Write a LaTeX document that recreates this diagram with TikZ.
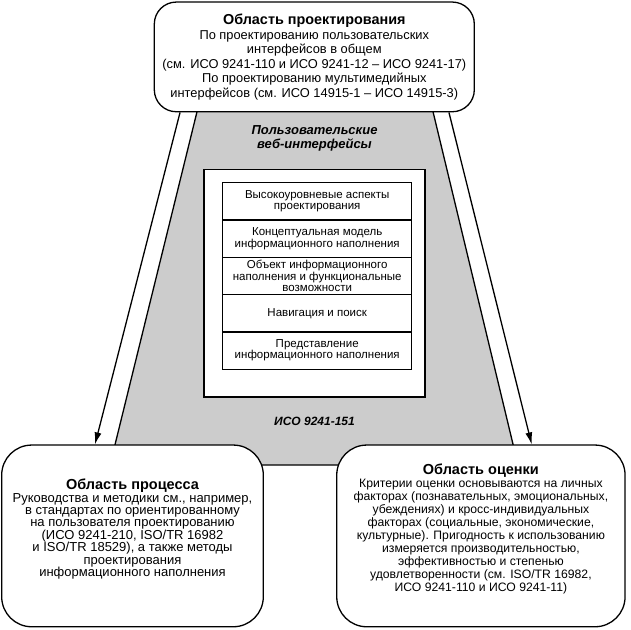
\documentclass[tikz,border=0pt]{standalone}
\usepackage{fontspec}
\setmainfont{Liberation Sans}
\usetikzlibrary{arrows.meta,positioning}
\newcommand{\areahead}[2][14.5]{{\fontsize{#1}{14.5}\selectfont\bfseries #2}}

\begin{document}
\begin{tikzpicture}[>={Latex[length=12pt,width=7pt]}, x=1pt, y=-1pt,
	area/.style={draw, line width=1.3pt, rounded corners=30pt, fill=white, align=center, inner sep=0pt},
	layer/.style={draw, line width=1.3pt, minimum width=189pt, minimum height=37.3pt, align=center, inner sep=0pt, font=\fontsize{11.5}{11.4}\selectfont}]
		\useasboundingbox (0,0) rectangle (631,629);
		%\draw [help lines] (0,0) grid (631,629);
		%trapezoid
		\filldraw [fill=black!20, line width=1.3pt] (199.9,100) -- (110,465) -- (518,465) -- (430.2,100);
		\node (webtitle) at (314.5,138.7) [font=\fontsize{13}{14}\selectfont\bfseries\itshape, align=center] {Пользовательские\\веб-интерфейсы};
		\node (isolabel) at (314.5,421.7) [font=\fontsize{12}{14}\selectfont\bfseries\itshape] {ИСО 9241-151};
		%inner box
		\node (webbox) at (314.5,283.3) [draw, fill=white, line width=1.3pt, minimum width=221pt, minimum height=227.5pt] {};
		\node (l1) at (317.2,201.3) [layer] {Высокоуровневые аспекты\\проектирования};
		\node (l2) [layer, below=-1.3pt of l1] {Концептуальная модель\\информационного наполнения};
		\node (l3) [layer, below=-1.3pt of l2] {Объект информационного\\наполнения и функциональные\\возможности};
		\node (l4) [layer, below=-1.3pt of l3] {Навигация и поиск};
		\node (l5) [layer, below=-1.3pt of l4] {Представление\\информационного наполнения};
		%areas
		\node (design) at (314.3,56.9) [area, rounded corners=22pt, minimum width=320pt, minimum height=109.7pt, font=\fontsize{12.85}{14.5}\selectfont]
			{\areahead[14.4]{Область проектирования}\\По проектированию пользовательских\\интерфейсов в общем\\(см. ИСО 9241-110 и ИСО 9241-12 – ИСО 9241-17)\\По проектированию мультимедийных\\интерфейсов (см. ИСО 14915-1 – ИСО 14915-3)};
		\node (process) at (132.5,535.9) [area, minimum width=261.6pt, minimum height=181.7pt, font=\fontsize{13}{12.4}\selectfont]
			{\areahead{Область процесса}\\Руководства и методики см., например,\\в стандартах по ориентированному\\на пользователя проектированию\\(ИСО 9241-210, ISO/TR 16982\\и ISO/TR 18529), а также методы\\проектирования\\информационного наполнения\\[4pt]\mbox{}};
		\node (evaluation) at (480.9,535.9) [area, minimum width=288.3pt, minimum height=181.7pt, font=\fontsize{12.2}{13}\selectfont]
			{\areahead{Область оценки}\\Критерии оценки основываются на личных\\факторах (познавательных, эмоциональных,\\убеждениях) и кросс-индивидуальных\\факторах (социальные, экономические,\\культурные). Пригодность к использованию\\измеряется производительностью,\\эффективностью и степенью\\удовлетворенности (см. ISO/TR 16982,\\ИСО 9241-110 и ИСО 9241-11)\\[3pt]\mbox{}};
		%arrows
		\draw [->, line width=1.3pt] ([xshift=26.4pt]design.south west) -- ([xshift=-37.5pt]process.north);
		\draw [->, line width=1.3pt] ([xshift=-26pt]design.south east) -- ([xshift=50.8pt]evaluation.north);
\end{tikzpicture}
\end{document}
